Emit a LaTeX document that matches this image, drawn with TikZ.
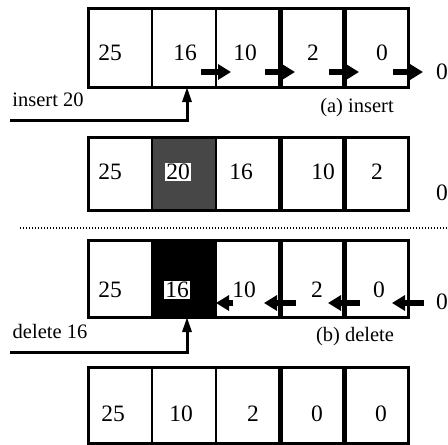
\documentclass[tikz,border=0pt]{standalone}
\usepackage{fontspec}
\setmainfont{Liberation Serif}
\usetikzlibrary{arrows.meta,calc}
\begin{document}
\begin{tikzpicture}[x=1pt,y=-1pt,
  cell/.style={minimum width=64pt, inner sep=0pt, outer sep=0pt},
  outline/.style={line width=3pt},
  thindiv/.style={line width=2.5pt},
  thickdiv/.style={line width=5pt},
  num/.style={inner sep=0pt, font=\fontsize{23.5}{27}\selectfont},
  lbl/.style={inner sep=0pt, font=\fontsize{20.5}{24}\selectfont},
  ptr/.style={line width=6.5pt, -{Triangle[length=13pt,width=15pt]}},
  conn/.style={line width=3pt, -{Triangle[length=15pt,width=9pt]}},
  sep/.style={line width=1.3pt, dash pattern=on 1.3pt off 1.7pt}
]
\useasboundingbox (0,0) rectangle (448,445);

% ---------- row 1 ----------
\foreach \i/\x in {1/120,2/184,3/248,4/312,5/376}
  \node[cell, minimum height=79pt] (a\i) at (\x,47.5) {};
\draw[outline] (a1.north west) rectangle (a5.south east);
\draw[thindiv] (a1.north east) -- (a1.south east);
\draw[thindiv] (a2.north east) -- (a2.south east);
\draw[thickdiv] (a3.north east) -- (a3.south east);
\draw[thickdiv] (a4.north east) -- (a4.south east);
\node[num] (ta1) at (110,53) {25};
\node[num] (ta2) at (185,53) {16};
\node[num] (ta3) at (245,53) {10};
\node[num] (ta4) at (313,53) {2};
\node[num] (ta5) at (382,53) {0};
\node[num] (ta6) at (442,72) {0};
\foreach \i in {2,3,4,5}
  \draw[ptr] ([shift={(-15,-15)}]a\i.south east) -- ([shift={(15,-15)}]a\i.south east);

\coordinate (ins) at (10,120);
\draw[conn] (ins) -| ([xshift=3pt]a2.south);
\node[lbl] (li) at (48,100) {insert 20};
\node[lbl] (la) at (357,108) {(a) insert};

% ---------- row 2 ----------
\foreach \i/\x in {1/120,2/184,3/248,4/312,5/376}
  \node[cell, minimum height=73pt] (b\i) at (\x,173.5) {};
\fill[black!72] (b2.north west) rectangle (b2.south east);
\draw[outline] (b1.north west) rectangle (b5.south east);
\draw[thindiv] (b1.north east) -- (b1.south east);
\draw[thindiv] (b2.north east) -- (b2.south east);
\draw[thickdiv] (b3.north east) -- (b3.south east);
\draw[thickdiv] (b4.north east) -- (b4.south east);
\node[num] (tb1) at (110,172) {25};
\node[num, fill=white, inner sep=1.5pt] (tb2) at (178,172) {20};
\node[num] (tb3) at (241,172) {16};
\node[num] (tb4) at (323,172) {10};
\node[num] (tb5) at (377,172) {2};
\node[num] (tb6) at (442,193) {0};

% ---------- separator ----------
\coordinate (dl) at (20,228);
\coordinate (dr) at (448,228);
\draw[sep] (dl) -- (dr);

% ---------- row 3 ----------
\foreach \i/\x in {1/120,2/184,3/248,4/312,5/376}
  \node[cell, minimum height=77pt] (c\i) at (\x,278.5) {};
\fill[black] (c2.north west) rectangle (c2.south east);
\draw[outline] (c1.north west) rectangle (c5.south east);
\draw[thindiv] (c1.north east) -- (c1.south east);
\draw[thindiv] (c2.north east) -- (c2.south east);
\draw[thickdiv] (c3.north east) -- (c3.south east);
\draw[thickdiv] (c4.north east) -- (c4.south east);
\node[num] (tc1) at (110,290) {25};
\node[num, fill=white, draw=black, dotted, line width=0.8pt, inner sep=1.5pt] (tc2) at (177,290) {16};
\node[num] (tc3) at (244,290) {10};
\node[num] (tc4) at (317,290) {2};
\node[num] (tc5) at (379,290) {0};
\node[num] (tc6) at (442,302) {0};
\draw[ptr] ([shift={(17,-14)}]c2.south east) -- ([shift={(0,-14)}]c2.south east);
\foreach \i in {3,4,5}
  \draw[ptr] ([shift={(16,-14)}]c\i.south east) -- ([shift={(-16,-14)}]c\i.south east);

\coordinate (del) at (10,352);
\draw[conn] (del) -| ([xshift=3pt]c2.south);
\node[lbl] (ld) at (50,331) {delete 16};
\node[lbl] (lb) at (355,337) {(b) delete};

% ---------- row 4 ----------
\foreach \i/\x in {1/120,2/184,3/248,4/312,5/376}
  \node[cell, minimum height=76pt] (d\i) at (\x,405) {};
\draw[outline] (d1.north west) rectangle (d5.south east);
\draw[thindiv] (d1.north east) -- (d1.south east);
\draw[thindiv] (d2.north east) -- (d2.south east);
\draw[thickdiv] (d3.north east) -- (d3.south east);
\draw[thickdiv] (d4.north east) -- (d4.south east);
\node[num] (td1) at (113,414) {25};
\node[num] (td2) at (181,414) {10};
\node[num] (td3) at (253,414) {2};
\node[num] (td4) at (317,414) {0};
\node[num] (td5) at (381,414) {0};
\end{tikzpicture}
\end{document}
